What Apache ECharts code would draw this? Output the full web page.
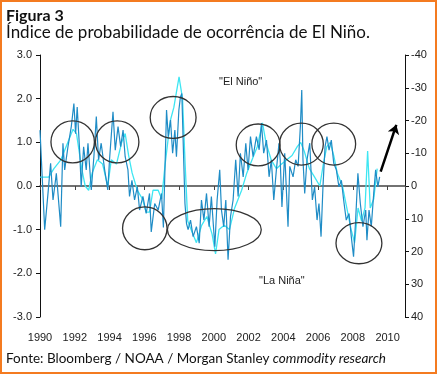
<!DOCTYPE html>
<html>
<head>
<meta charset="utf-8">
<script src="https://cdn.jsdelivr.net/npm/echarts@6/dist/echarts.min.js"></script>
<style>
  html, body { margin: 0; padding: 0; background: #fff; }
  #chart { width: 439px; height: 376px; }
</style>
</head>
<body>
<div id="chart"></div>
<script>
// indice de probabilidade (eixo esquerdo)
const ninoYears = [
  1990.0, 1990.27, 1990.46, 1990.61, 1990.75, 1990.94, 1991.19, 1991.32, 1991.42, 1991.61,
  1991.8, 1991.95, 1992.05, 1992.14, 1992.28, 1992.37, 1992.51, 1992.66, 1992.76, 1992.95,
  1993.1, 1993.24, 1993.37, 1993.52, 1993.72, 1993.9, 1994.0, 1994.2, 1994.33, 1994.49,
  1994.64, 1994.78, 1994.9, 1995.06, 1995.15, 1995.29, 1995.44, 1995.6, 1995.73, 1995.92,
  1996.11, 1996.3, 1996.4, 1996.6, 1996.8, 1996.99, 1997.1, 1997.28, 1997.38, 1997.51,
  1997.63, 1997.76, 1997.85, 1997.99, 1998.08, 1998.16, 1998.24, 1998.34, 1998.43, 1998.52,
  1998.66, 1998.81, 1999.0, 1999.16, 1999.29, 1999.43, 1999.58, 1999.73, 1999.86, 2000.06,
  2000.19, 2000.34, 2000.44, 2000.57, 2000.69, 2000.82, 2000.96, 2001.11, 2001.26, 2001.4,
  2001.53, 2001.69, 2001.84, 2001.97, 2002.11, 2002.26, 2002.45, 2002.61, 2002.74, 2002.87,
  2003.03, 2003.18, 2003.31, 2003.45, 2003.6, 2003.75, 2003.82, 2003.92, 2004.08, 2004.27,
  2004.37, 2004.56, 2004.71, 2004.85, 2004.98, 2005.06, 2005.13, 2005.23, 2005.36, 2005.52,
  2005.67, 2005.8, 2005.94, 2006.05, 2006.17, 2006.28, 2006.4, 2006.51, 2006.63, 2006.76,
  2006.9, 2007.05, 2007.2, 2007.34, 2007.47, 2007.62, 2007.78, 2007.91, 2008.04, 2008.16,
  2008.29, 2008.43, 2008.58, 2008.74, 2008.81, 2008.93, 2009.06, 2009.2, 2009.31, 2009.44,
  2009.54
]
const ninoIndex = [
  1.28, -1.0, -0.17, 0.52, -0.32, 0.29, -0.93, 0.98, 0.37, 0.9,
  1.36, 1.89, 1.2, 1.81, 0.82, -0.02, 0.9, 0.37, 0.98, -0.09,
  0.67, 1.59, 0.6, 0.98, 0.37, -0.09, 0.6, 1.7, 0.82, 1.36,
  0.9, 1.28, 0.67, 0.37, -0.24, 0.13, -0.32, -0.02, -0.55, -0.24,
  -0.63, -0.17, -1.05, -0.4, -0.55, -0.17, -0.95, 1.74, 1.13, 1.51,
  0.75, 1.28, 0.67, 1.74, 2.04, 2.12, 0.98, -0.4, -0.86, -1.0,
  -0.78, -1.16, -0.93, -1.31, -0.32, -0.78, -0.17, -0.93, -0.24, -1.39,
  -0.32, 0.37, -0.55, -0.93, -0.32, -1.69, -0.7, -0.32, 0.6, -0.24,
  0.75, 0.21, 0.98, 0.37, 1.13, 0.67, 1.13, 0.83, 1.44, 0.75,
  1.05, 0.21, 0.6, -0.32, 0.37, 0.98, 0.6, -0.48, 0.75, -0.93,
  0.45, 0.21, 0.6, 0.45, 1.36, 2.2, 0.6, -0.17, 0.6, 0.98,
  -0.32, -0.02, -0.78, -0.4, -1.16, -0.02, 0.9, 1.13, 0.82, 1.05,
  0.52, 0.37, -0.02, 0.13, -0.32, -0.78, -0.63, -1.16, -1.62, -0.78,
  0.29, -0.4, -0.93, -0.55, -1.24, -0.55, -0.93, -0.17, 0.37, -0.02,
  0.21
]

// SOI (eixo direito, invertido)
const soiYears = [
  1990.0, 1990.5, 1990.8, 1991.2, 1991.5, 1991.9, 1992.1, 1992.4, 1992.6, 1992.8,
  1993.0, 1993.3, 1993.6, 1993.9, 1994.1, 1994.4, 1994.7, 1994.9, 1995.1, 1995.3,
  1995.6, 1995.9, 1996.1, 1996.3, 1996.5, 1996.8, 1997.0, 1997.2, 1997.5, 1997.7,
  1998.0, 1998.2, 1998.35, 1998.5, 1998.8, 1999.0, 1999.3, 1999.6, 1999.9, 2000.1,
  2000.3, 2000.6, 2000.9, 2001.2, 2001.6, 2001.9, 2002.2, 2002.5, 2002.8, 2003.0,
  2003.3, 2003.6, 2003.9, 2004.2, 2004.5, 2004.8, 2005.0, 2005.2, 2005.5, 2005.8,
  2006.1, 2006.3, 2006.5, 2006.7, 2006.9, 2007.1, 2007.4, 2007.6, 2007.9, 2008.1,
  2008.3, 2008.5, 2008.7, 2008.85, 2009.0, 2009.2, 2009.4
]
const soiIndex = [
  -2.7, -2.7, -5.3, -8, -12, -17.3, -16, -5.3, 0, 1.3,
  -4, -8, -6.7, 0, -8, -6.7, -13.3, -16, -9.3, -4,
  1.3, 4, 8, 8, 1.3, 1.3, 4, -6.7, -20, -24,
  -33.3, -26.7, -6.7, 10.7, 14.7, 17.3, 12, 9.3, 14.7, 20.7,
  13.3, 12, 13.3, 6.7, 1.3, -4, -8, -12, -19.3, -13.3,
  -8, -5.3, -6.7, -8, -9.3, -12, -13.3, -10.7, -5.3, -2.7,
  0, -6.7, -12, -13.3, -9.3, -4, 0, 5.3, 13.3, 17.3,
  6.7, 10.7, 6.7, -10.7, 6.7, 4, -5.3
]

const yearTicks = { min: 1990, max: 2011, interval: 2 }
const leftTicks = { min: -3, max: 3, interval: 1 }
const rightTicks = { min: -40, max: 40, interval: 10 }

// anotações: [ano, valor, raio em anos, raio em valor]
const circles = [
  [1991.88, 1.01, 1.25, 0.48],
  [1994.44, 1.01, 1.25, 0.48],
  [1997.66, 1.57, 1.32, 0.48],
  [1996.03, -0.97, 1.28, 0.49],
  [2000.03, -1.0, 2.7, 0.48],
  [2002.55, 0.94, 1.26, 0.48],
  [2005.04, 0.96, 1.26, 0.48],
  [2006.9, 0.96, 1.26, 0.48],
  [2008.35, -1.31, 1.32, 0.47]
]
const arrowFrom = [2009.6, 0.33]
const arrowTo = [2010.5, 1.4]

const labelFont = 'Liberation Sans'
const textFont = 'Lato'

const chart = echarts.init(document.getElementById('chart'))

chart.setOption({
  animation: false,
  backgroundColor: '#fff',
  grid: { left: 40, right: 34, top: 55, bottom: 59, containLabel: false },
  xAxis: [{
    type: 'value',
    min: yearTicks.min,
    max: yearTicks.max,
    interval: yearTicks.interval,
    axisLine: { show: false },
    axisTick: { show: false },
    splitLine: { show: false },
    axisLabel: {
      showMaxLabel: false, margin: 15, fontSize: 11, color: '#222', fontFamily: labelFont,
      formatter: v => String(v)
    }
  }, {
    type: 'value',
    position: 'bottom',
    min: yearTicks.min,
    max: yearTicks.max,
    interval: yearTicks.interval,
    axisLine: { show: true, onZero: true, onZeroAxisIndex: 0, lineStyle: { color: '#444', width: 1.5 } },
    axisTick: { show: true, length: 4, lineStyle: { color: '#444' } },
    splitLine: { show: false },
    axisLabel: { show: false }
  }],
  yAxis: [{
    type: 'value',
    position: 'left',
    min: leftTicks.min,
    max: leftTicks.max,
    interval: leftTicks.interval,
    axisLine: { show: true, onZero: false, lineStyle: { color: '#111', width: 1 } },
    axisTick: { show: true, length: 4, lineStyle: { color: '#111' } },
    splitLine: { show: false },
    axisLabel: {
      margin: 8, fontSize: 11, color: '#222', fontFamily: labelFont,
      formatter: v => v.toFixed(1)
    }
  }, {
    type: 'value',
    position: 'right',
    inverse: true,
    min: rightTicks.min,
    max: rightTicks.max,
    interval: rightTicks.interval,
    axisLine: { show: true, onZero: false, lineStyle: { color: '#111', width: 1 } },
    axisTick: { show: true, length: 4, lineStyle: { color: '#111' } },
    splitLine: { show: false },
    axisLabel: { margin: 6, fontSize: 11, color: '#222', fontFamily: labelFont }
  }],
  series: [{
    name: 'SOI',
    type: 'line',
    xAxisIndex: 0,
    yAxisIndex: 1,
    data: soiYears.map((y, i) => [y, soiIndex[i]]),
    showSymbol: false,
    lineStyle: { color: '#3ee6f2', width: 1.3 },
    z: 2
  }, {
    name: 'Nino',
    type: 'line',
    xAxisIndex: 0,
    yAxisIndex: 0,
    data: ninoYears.map((y, i) => [y, ninoIndex[i]]),
    showSymbol: false,
    lineStyle: { color: '#1f8cc6', width: 1.2 },
    z: 3,
    markLine: {
      silent: true,
      symbol: ['none', 'arrow'],
      symbolSize: 9,
      label: { show: false },
      lineStyle: { color: '#000', width: 2.5, type: 'solid' },
      data: [[{ coord: arrowFrom }, { coord: arrowTo }]]
    }
  }]
})

// círculos e textos
const graphics = circles.map(c => {
  const p = chart.convertToPixel({ gridIndex: 0 }, [c[0], c[1]])
  const q = chart.convertToPixel({ gridIndex: 0 }, [c[0] + c[2], c[1] + c[3]])
  return {
    type: 'ellipse',
    shape: { cx: p[0], cy: p[1], rx: Math.abs(q[0] - p[0]), ry: Math.abs(q[1] - p[1]) },
    style: { fill: null, stroke: '#333', lineWidth: 1.3 },
    z: 10
  }
})

graphics.push(
  { type: 'rect', shape: { x: 1, y: 1, width: 435, height: 372 }, style: { fill: null, stroke: '#f47b20', lineWidth: 2 }, z: 20 },
  { type: 'text', left: 6, top: 8, style: { text: 'Figura 3', fontFamily: textFont, fontWeight: 'bold', fontSize: 16, fill: '#111' } },
  { type: 'text', left: 6, top: 24, style: { text: 'Índice de probabilidade de ocorrência de El Niño.', fontFamily: textFont, fontSize: 17, fill: '#111' } },
  { type: 'text', left: 219, top: 76, style: { text: '"El Niño"', fontFamily: labelFont, fontSize: 11, fill: '#222' }, z: 10 },
  { type: 'text', left: 259, top: 275, style: { text: '"La Niña"', fontFamily: labelFont, fontSize: 11, fill: '#222' }, z: 10 },
  {
    type: 'text', left: 6, top: 352,
    style: {
      text: 'Fonte: Bloomberg / NOAA / Morgan Stanley {i|commodity research}',
      fontFamily: textFont, fontSize: 13.5, fill: '#111',
      rich: { i: { fontFamily: textFont, fontSize: 13.5, fontStyle: 'italic', fill: '#111' } }
    }
  }
)

chart.setOption({ graphic: graphics })
</script>
</body>
</html>
